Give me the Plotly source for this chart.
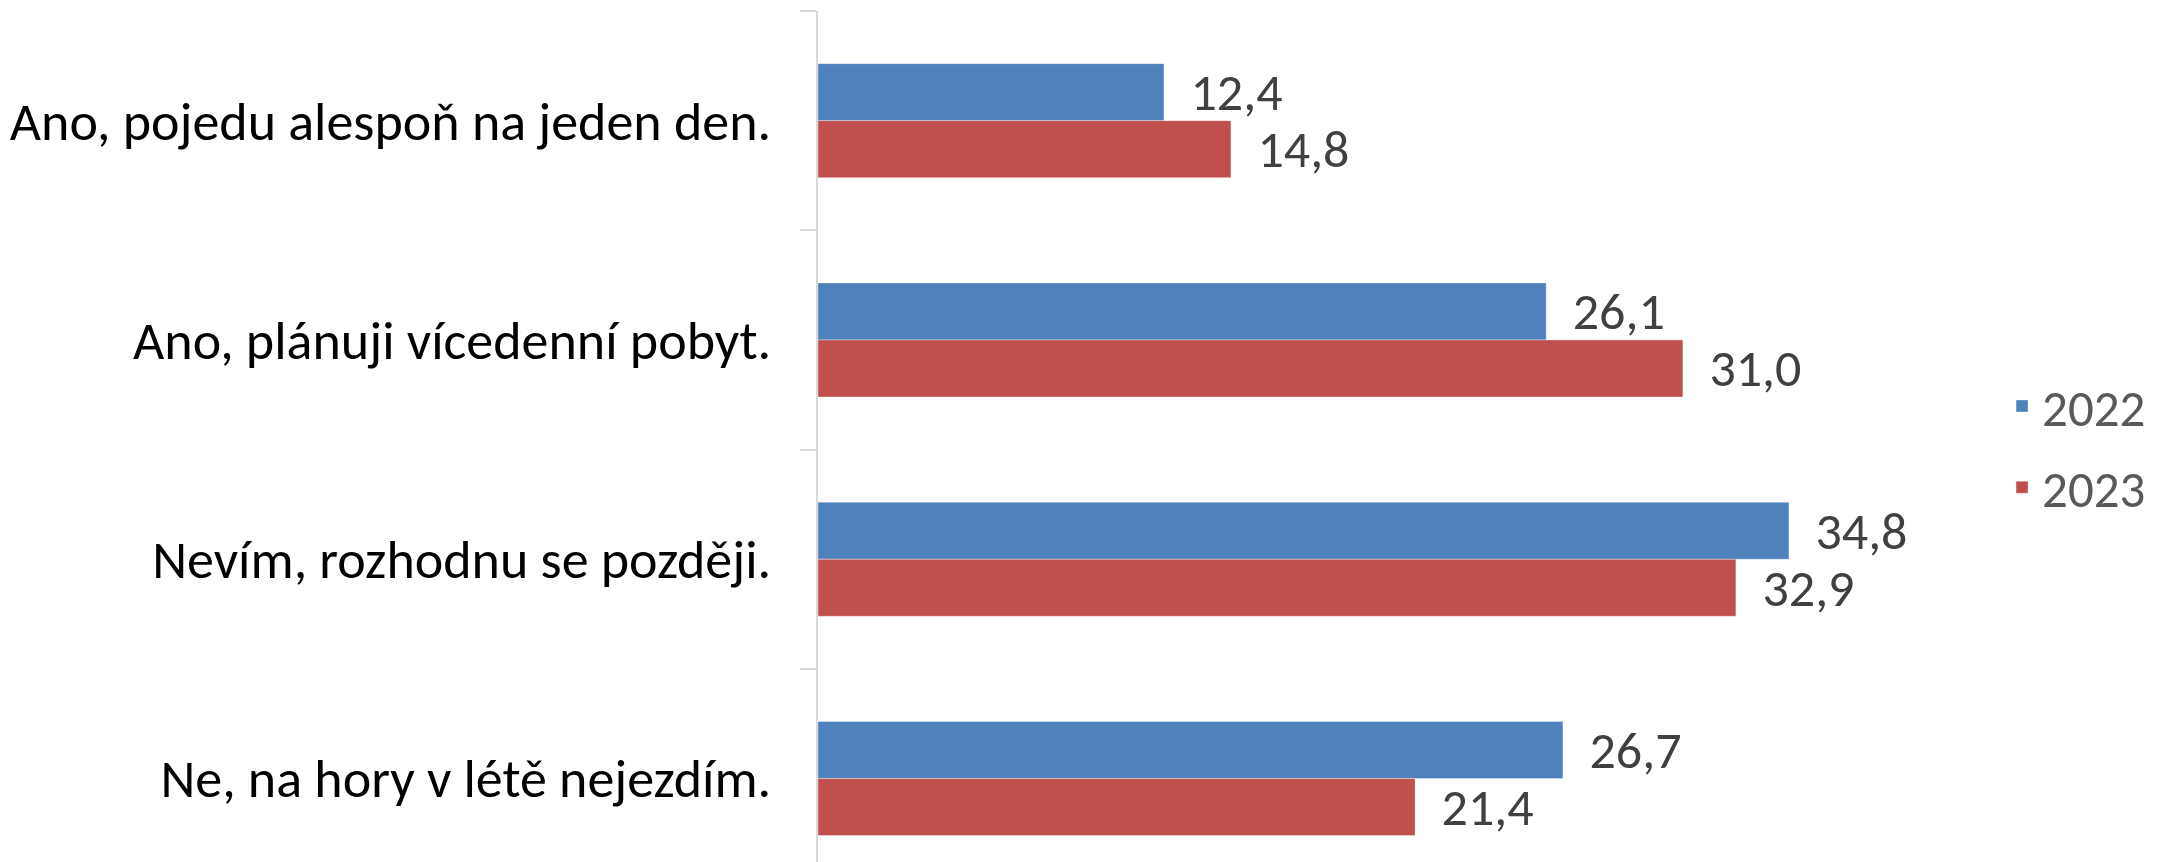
import plotly.graph_objects as go

categories = [
    "Ano, pojedu alespoň na jeden den.",
    "Ano, plánuji vícedenní pobyt.",
    "Nevím, rozhodnu se později.",
    "Ne, na hory v létě nejezdím.",
]
series_names = ["2022", "2023"]
values_2022 = [12.4, 26.1, 34.8, 26.7]
values_2023 = [14.8, 31.0, 32.9, 21.4]
colors = ["#4F81BD", "#C0504D"]

FONT = "Carlito, Lato, sans-serif"

fig = go.Figure()
for name, vals, col in zip(series_names, [values_2022, values_2023], colors):
    fig.add_trace(go.Bar(
        y=categories, x=vals, name=name, orientation="h",
        legendgroup=name,
        marker=dict(color=col, line=dict(color="rgba(255,255,255,0.35)", width=1)),
        texttemplate="\u00a0\u00a0%{x:.1f}", textposition="outside",
        constraintext="none",
        textfont=dict(family=FONT, size=52, color="#404040"),
        cliponaxis=False,
    ))

W, H = 2159, 862
left, top = 810, 3
cat_px = 219.3
bottom_idx = -0.5 + (H - top) / cat_px
px_per_unit = 27.9
plot_right = 1920
xmax = (plot_right - left) / px_per_unit

fig.update_layout(
    width=W, height=H,
    margin=dict(l=left, r=W - plot_right, t=top, b=0, pad=0),
    paper_bgcolor="white", plot_bgcolor="white",
    barmode="group", bargap=0.48, bargroupgap=0,
    separators=", ",
    font=dict(family=FONT, color="#000000"),
    showlegend=True,
    legend=dict(
        xref="container", yref="container",
        x=0.9236, xanchor="left", y=0.491, yanchor="middle",
        font=dict(family=FONT, size=51, color="#595959"),
        bgcolor="rgba(0,0,0,0)", itemwidth=30, tracegroupgap=12,
    ),
    xaxis=dict(range=[0, xmax], showgrid=False, zeroline=False,
               showticklabels=False, showline=False, ticks=""),
    yaxis=dict(
        type="category", categoryorder="array", categoryarray=categories,
        range=[bottom_idx, -0.5],
        showline=True, linecolor="#D9D9D9", linewidth=2,
        ticks="outside", tickson="boundaries", ticklen=16, tickcolor="#D9D9D9", tickwidth=2,
        ticklabelstandoff=34,
        tickfont=dict(family=FONT, size=54, color="#000000"),
        showgrid=False, zeroline=False,
    ),
)

fig.write_html("out.html")
